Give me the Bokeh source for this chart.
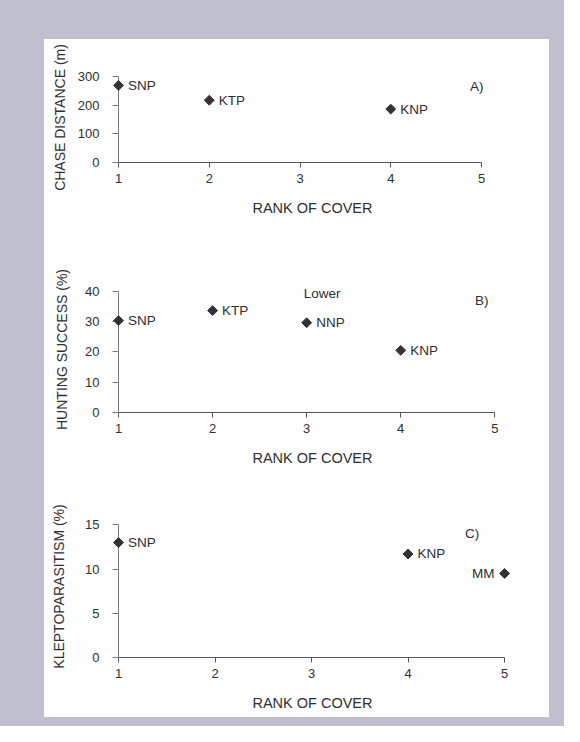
import math
from bokeh.plotting import figure
from bokeh.layouts import row, column
from bokeh.models import LinearAxis, FixedTicker, Range1d, Label, ColumnDataSource, Spacer
from bokeh.core.properties import value
from bokeh.embed import file_html
from bokeh.resources import INLINE

# ---------------- data ----------------
x_ticks = [1, 2, 3, 4, 5]
x_title = "RANK OF COVER"

rank_a = [1, 2, 4]
chase_distance = [270, 218, 187]
sites_a = ["SNP", "KTP", "KNP"]
label_left_a = [False, False, False]
y_ticks_a = [0, 100, 200, 300]
y_title_a = "CHASE DISTANCE (m)"
tag_a = "A)"

rank_b = [1, 2, 3, 4]
hunting_success = [30.3, 33.6, 29.6, 20.5]
sites_b = ["SNP", "KTP", "NNP", "KNP"]
label_left_b = [False, False, False, False]
y_ticks_b = [0, 10, 20, 30, 40]
y_title_b = "HUNTING SUCCESS (%)"
tag_b = "B)"
note_b = "Lower"

rank_c = [1, 4, 5]
kleptoparasitism = [13.0, 11.7, 9.5]
sites_c = ["SNP", "KNP", "MM"]
label_left_c = [False, False, True]
y_ticks_c = [0, 5, 10, 15]
y_title_c = "KLEPTOPARASITISM (%)"
tag_c = "C)"

# ---------------- styling / layout ----------------
FONT = "Liberation Sans"
TEXT = "#303030"
GRAY = "#bfbfcd"
WHITE = "#fdfdfd"
FIG_LEFT, FIG_RIGHT = 44, 549


def make_panel(top, bottom, fl, fr, ft, fb, x5, ytop, xs, ys, names, left_flags,
               yticks, ytitle, tag, tag_pos, ylab_standoff, note=None, note_pos=None):
    width = FIG_RIGHT - FIG_LEFT
    height = bottom - top
    ymax = yticks[-1]
    kx = (x5 - fl) / 4.0
    ky = (fb - ytop) / float(ymax)
    xr = Range1d(1, 5 + (fr - x5) / kx)
    yr = Range1d(0, ymax + (ytop - ft) / ky)

    def dx(px):
        return 1 + (px - fl) / kx

    def dy(py):
        return (fb - py) / ky

    p = figure(width=width, height=height, x_range=xr, y_range=yr,
               x_axis_type=None, y_axis_type=None, toolbar_location=None,
               output_backend="svg",
               min_border_left=fl - FIG_LEFT, min_border_right=FIG_RIGHT - fr,
               min_border_top=ft - top, min_border_bottom=bottom - fb)
    p.outline_line_color = None
    p.background_fill_color = WHITE
    p.border_fill_color = WHITE

    xa = LinearAxis(ticker=FixedTicker(ticks=x_ticks), bounds=(1, 5), axis_label=x_title)
    xa.axis_line_color = "#55556a"
    xa.major_tick_line_color = "#55556a"
    xa.major_tick_out = 5
    xa.major_tick_in = 0
    xa.minor_tick_line_color = None
    xa.major_label_standoff = 6
    xa.major_label_text_font = FONT
    xa.major_label_text_font_size = "13px"
    xa.major_label_text_color = TEXT
    xa.axis_label_standoff = 14
    xa.axis_label_text_font = FONT
    xa.axis_label_text_font_size = "14.5px"
    xa.axis_label_text_font_style = "normal"
    xa.axis_label_text_color = TEXT
    p.add_layout(xa, "below")

    ya = LinearAxis(ticker=FixedTicker(ticks=yticks), bounds=(0, ymax), axis_label=ytitle)
    ya.axis_line_color = "#7a7a7a"
    ya.major_tick_line_color = "#7a7a7a"
    ya.major_tick_out = 6
    ya.major_tick_in = 0
    ya.minor_tick_line_color = None
    ya.major_label_standoff = 13
    ya.major_label_text_font = FONT
    ya.major_label_text_font_size = "13px"
    ya.major_label_text_color = TEXT
    ya.axis_label_standoff = ylab_standoff
    ya.axis_label_text_font = FONT
    ya.axis_label_text_font_size = "14px"
    ya.axis_label_text_font_style = "normal"
    ya.axis_label_text_color = TEXT
    p.add_layout(ya, "left")

    src = ColumnDataSource(dict(x=xs, y=ys, name=names))
    p.scatter("x", "y", source=src, marker="square", size=7, angle=math.pi / 4,
              fill_color="#333333", line_color="#333333", level="overlay")

    right = [i for i, f in enumerate(left_flags) if not f]
    left = [i for i, f in enumerate(left_flags) if f]
    for idx, align, off in ((right, "left", 9.5), (left, "right", -10)):
        if not idx:
            continue
        s = ColumnDataSource(dict(x=[xs[i] for i in idx], y=[ys[i] for i in idx],
                                  t=[names[i] for i in idx]))
        p.text("x", "y", text="t", source=s, x_offset=off, text_align=align,
               text_baseline="middle", text_font=value(FONT),
               text_font_size=value("13.5px"), text_color=TEXT, level="overlay")

    p.add_layout(Label(x=dx(tag_pos[0]), y=dy(tag_pos[1]), text=tag, text_align="right",
                       text_baseline="middle", text_font=FONT, text_font_size="13.5px",
                       text_color=TEXT))
    if note:
        p.add_layout(Label(x=dx(note_pos[0]), y=dy(note_pos[1]), text=note, text_align="left",
                           text_baseline="middle", text_font=FONT, text_font_size="13.5px",
                           text_color=TEXT))
    return p


pa = make_panel(39, 240, 116, 512, 72, 162, 486.5, 76.3, rank_a, chase_distance, sites_a,
                label_left_a, y_ticks_a, y_title_a, tag_a, (488.5, 86), 7)
pb = make_panel(240, 476, 118, 506, 286, 412, 494.3, 290.7, rank_b, hunting_success, sites_b,
                label_left_b, y_ticks_b, y_title_b, tag_b, (488, 300), 12,
                note=note_b, note_pos=(303.3, 292.7))
pc = make_panel(476, 717, 110, 518, 515, 657, 516, 524.3, rank_c, kleptoparasitism, sites_c,
                label_left_c, y_ticks_c, y_title_c, tag_c, (489.3, 533), 15)

inner = column(Spacer(width=505, height=39, styles={"background-color": GRAY}),
               pa, pb, pc,
               Spacer(width=505, height=9, styles={"background-color": GRAY}),
               spacing=0)
layout = row(Spacer(width=44, height=726, styles={"background-color": GRAY}),
             inner,
             Spacer(width=15, height=726, styles={"background-color": GRAY}),
             spacing=0)

open("out.html", "w").write(file_html(layout, INLINE))
